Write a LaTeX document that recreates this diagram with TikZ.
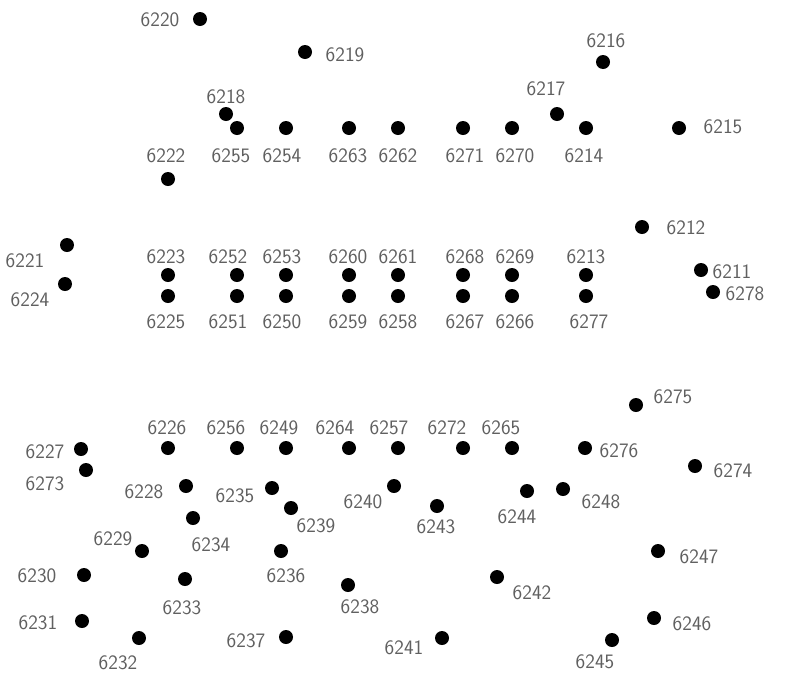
\documentclass[tikz,border=0pt]{standalone}
\usepackage{tikz}
\usetikzlibrary{positioning}
\definecolor{ink}{HTML}{000000}
\definecolor{lblgray}{HTML}{606060}

\tikzset{
  pdot/.style={circle, fill=ink, inner sep=0pt, minimum size=14pt},
  plabel/.style={lblgray, font=\fontsize{20.5}{21}\sffamily, inner sep=0pt}
}

\begin{document}
\begin{tikzpicture}[x=1pt, y=-1pt]
  \useasboundingbox (0,0) rectangle (787,678);
  % survey points: dot x/y, label x/y, number
  \foreach \px/\py/\lx/\ly/\n in {
      200/19/160/20/6220, 305/52/345/55/6219, 226/114/226/97/6218,
      237/128/231/156/6255, 286/128/282/156/6254, 349/128/348/156/6263,
      398/128/398/156/6262, 463/128/465/156/6271, 512/128/515/156/6270,
      557/114/546/89/6217, 586/128/584/156/6214, 603/62/606/41/6216,
      679/128/723/127/6215, 168/179/166/156/6222,
      67/245/25/261/6221, 65/284/30/300/6224,
      168/275/166/257/6223, 168/296/166/322/6225,
      237/275/228/257/6252, 237/296/228/322/6251,
      286/275/282/257/6253, 286/296/282/322/6250,
      349/275/348/257/6260, 349/296/348/322/6259,
      398/275/398/257/6261, 398/296/398/322/6258,
      463/275/465/257/6268, 463/296/465/322/6267,
      512/275/515/257/6269, 512/296/515/322/6266,
      586/275/586/257/6213, 586/296/589/322/6277,
      642/227/686/228/6212, 701/270/732/272/6211, 713/292/745/294/6278,
      636/405/673/397/6275,
      168/448/167/428/6226, 237/448/226/428/6256, 286/448/279/428/6249,
      349/448/335/428/6264, 398/448/389/428/6257, 463/448/447/428/6272,
      512/448/501/428/6265, 585/448/619/451/6276, 695/466/733/471/6274,
      81/449/45/452/6227, 86/470/45/484/6273,
      186/486/144/492/6228, 272/488/235/496/6235, 291/508/316/526/6239,
      394/486/363/502/6240, 437/506/436/527/6243,
      527/491/517/517/6244, 563/489/601/502/6248,
      193/518/211/545/6234, 142/551/113/539/6229, 281/551/286/576/6236,
      658/551/699/557/6247, 84/575/37/576/6230, 185/579/182/608/6233,
      348/585/360/607/6238, 497/577/532/593/6242,
      82/621/38/623/6231, 139/638/118/663/6232, 286/637/246/641/6237,
      442/638/404/648/6241, 654/618/692/624/6246, 612/640/595/662/6245}
  {
    \node[pdot] (p\n) at (\px,\py) {};
    \node[plabel] (l\n) at (\lx,\ly) {\n};
  }
\end{tikzpicture}
\end{document}
